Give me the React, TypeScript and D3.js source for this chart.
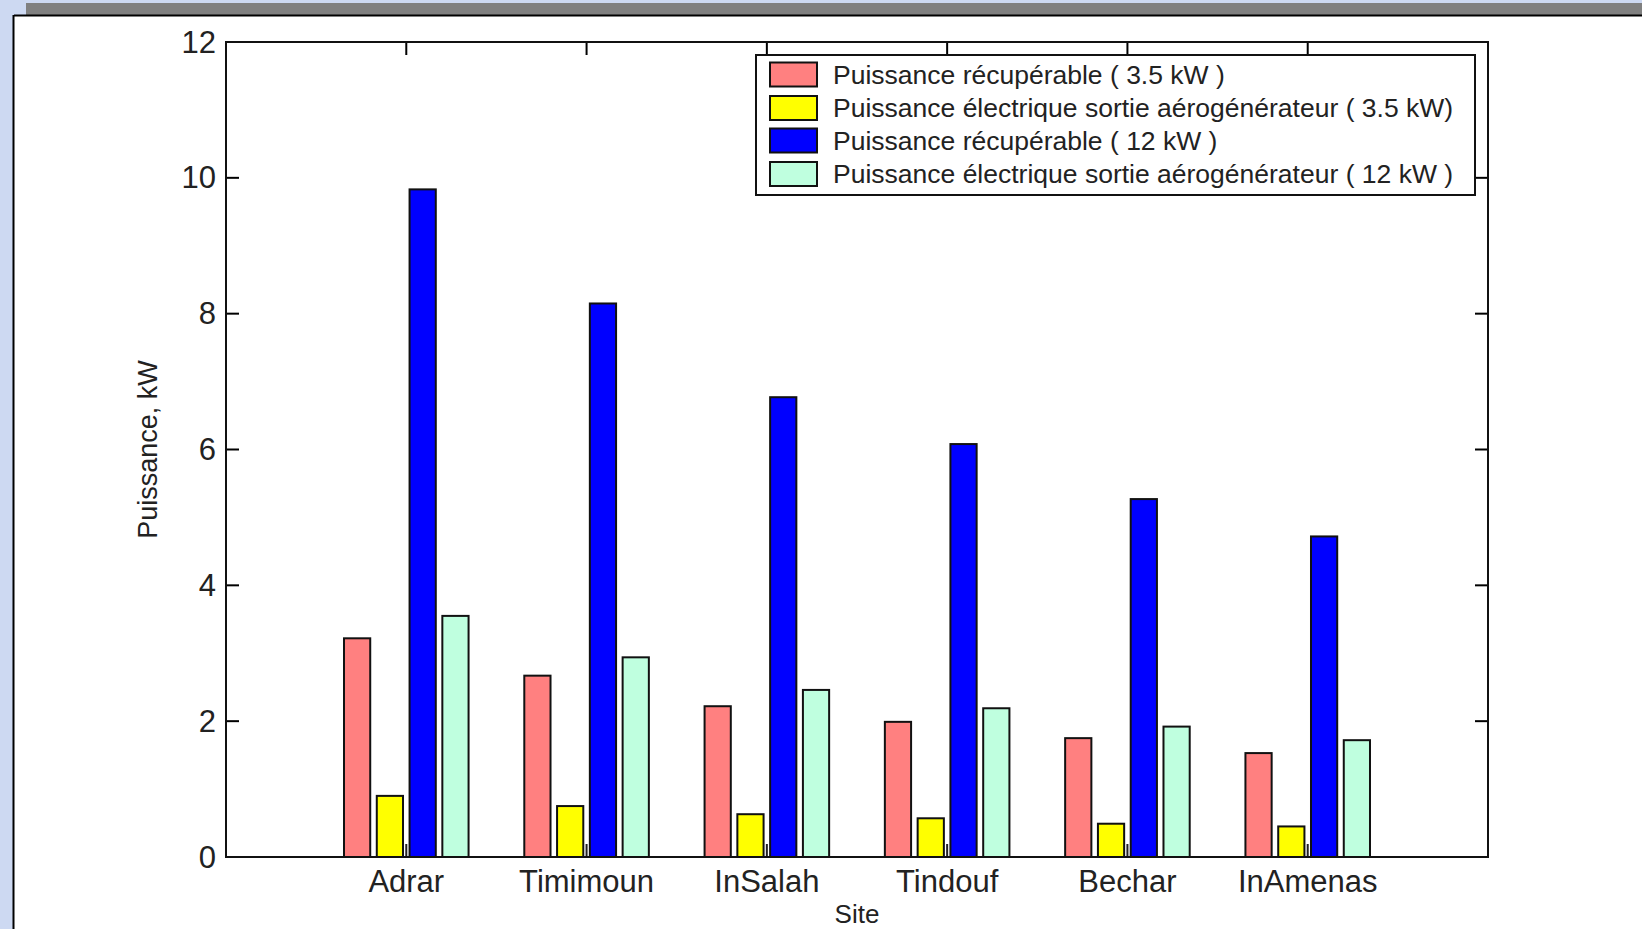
import React from "react";
import * as d3 from "d3";

const sites = ["Adrar", "Timimoun", "InSalah", "Tindouf", "Bechar", "InAmenas"];
const recup35 = [3.22, 2.67, 2.22, 1.99, 1.75, 1.53];
const elec35 = [0.9, 0.75, 0.63, 0.57, 0.49, 0.45];
const recup12 = [9.83, 8.15, 6.77, 6.08, 5.27, 4.72];
const elec12 = [3.55, 2.94, 2.46, 2.19, 1.92, 1.72];
const seriesNames = [
  "Puissance récupérable ( 3.5 kW )",
  "Puissance électrique sortie aérogénérateur ( 3.5 kW)",
  "Puissance récupérable ( 12 kW )",
  "Puissance électrique sortie aérogénérateur ( 12 kW )",
];
const seriesColors = ["#ff8080", "#ffff00", "#0000ff", "#bfffdf"];
const yTicks = [0, 2, 4, 6, 8, 10, 12];
const yLabel = "Puissance, kW";
const xLabel = "Site";

const W = 1642;
const H = 929;
const FONT = "'Liberation Sans', Arial, Helvetica, sans-serif";

export default function App() {
  const series = [recup35, elec35, recup12, elec12];
  const left = 226;
  const right = 1488;
  const top = 42;
  const bottom = 857;
  const x = d3.scaleLinear().domain([0, sites.length + 1]).range([left, right]);
  const y = d3.scaleLinear().domain([0, 12]).range([bottom, top]);
  const n = series.length;
  const groupW = Math.min(0.8, n / (n + 1.5));
  const slot = groupW / n;
  const barW = slot * 0.8;
  const tickLen = 13;

  const legX = 756;
  const legY = 55;
  const legW = 719;
  const legH = 140;
  const rowY = [74.5, 108, 140.5, 174];

  return (
    <svg
      width={W}
      height={H}
      style={{ position: "absolute", left: 0, top: 0, display: "block" }}
      fontFamily={FONT}
    >
      <rect x={0} y={0} width={W} height={H} fill="#cdd9f2" />
      <rect x={26} y={3} width={W - 26} height={12} fill="#808080" />
      <rect x={14} y={16} width={W - 14} height={H - 16} fill="#ffffff" />
      <line x1={14} y1={15.5} x2={W} y2={15.5} stroke="#000" strokeWidth={2} />
      <line x1={13.5} y1={15} x2={13.5} y2={H} stroke="#000" strokeWidth={2} />

      {/* ticks */}
      {yTicks.map((t) => (
        <g key={"yt" + t}>
          <line x1={left} x2={left + tickLen} y1={y(t)} y2={y(t)} stroke="#000" strokeWidth={2} />
          <line x1={right} x2={right - tickLen} y1={y(t)} y2={y(t)} stroke="#000" strokeWidth={2} />
          <text
            x={216}
            y={y(t)}
            textAnchor="end"
            dominantBaseline="central"
            fontSize={31}
            fill="#222"
          >
            {t}
          </text>
        </g>
      ))}
      {sites.map((s, i) => (
        <g key={"xt" + s}>
          <line x1={x(i + 1)} x2={x(i + 1)} y1={bottom} y2={bottom - tickLen} stroke="#222" strokeWidth={2} />
          <line x1={x(i + 1)} x2={x(i + 1)} y1={top} y2={top + tickLen} stroke="#000" strokeWidth={2} />
          <text x={x(i + 1)} y={892} textAnchor="middle" fontSize={31} fill="#222">
            {s}
          </text>
        </g>
      ))}

      {/* bars */}
      {series.map((vals, si) =>
        vals.map((v, i) => {
          const cx = i + 1 + (si - (n - 1) / 2) * slot;
          const x0 = x(cx - barW / 2);
          const x1 = x(cx + barW / 2);
          return (
            <rect
              key={"b" + si + "-" + i}
              x={x0}
              y={y(v)}
              width={x1 - x0}
              height={y(0) - y(v)}
              fill={seriesColors[si]}
              stroke="#111"
              strokeWidth={2}
            />
          );
        })
      )}

      {/* axes box */}
      <rect x={left} y={top} width={right - left} height={bottom - top} fill="none" stroke="#111" strokeWidth={2} />

      {/* legend */}
      <rect x={legX} y={legY} width={legW} height={legH} fill="#fff" stroke="#111" strokeWidth={2} />
      {seriesNames.map((nm, si) => (
        <g key={"lg" + si}>
          <rect
            x={770}
            y={rowY[si] - 12}
            width={47}
            height={24}
            fill={seriesColors[si]}
            stroke="#111"
            strokeWidth={2}
          />
          <text x={833} y={rowY[si]} dominantBaseline="central" fontSize={26.5} fill="#222">
            {nm}
          </text>
        </g>
      ))}

      {/* axis labels */}
      <text x={857} y={923} textAnchor="middle" fontSize={26} fill="#222">
        {xLabel}
      </text>
      <text
        transform={`translate(157, ${(top + bottom) / 2}) rotate(-90)`}
        textAnchor="middle"
        fontSize={27}
        fill="#222"
      >
        {yLabel}
      </text>
    </svg>
  );
}
